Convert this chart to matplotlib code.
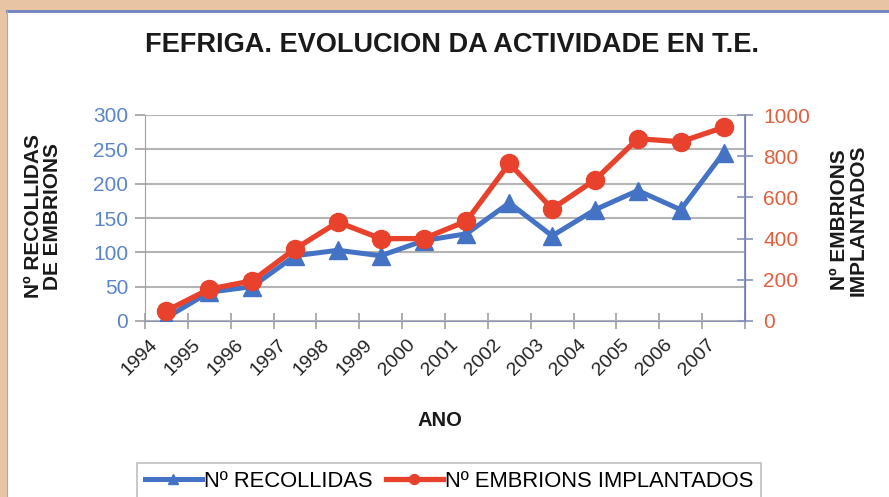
import numpy as np
import matplotlib
matplotlib.use("Agg")
import matplotlib.pyplot as plt
import matplotlib.transforms as mtransforms
from matplotlib.patches import Rectangle
from matplotlib.lines import Line2D

plt.rcParams['font.family'] = ['Liberation Sans', 'DejaVu Sans']

# data
years = ['1994', '1995', '1996', '1997', '1998', '1999', '2000',
         '2001', '2002', '2003', '2004', '2005', '2006', '2007']
recollidas = [5, 42, 50, 95, 103, 95, 117, 127, 172, 124, 162, 190, 162, 245]
implantados = [50, 155, 195, 350, 480, 400, 400, 485, 765, 545, 685, 885, 870, 940]

blue = '#4472c4'
red = '#e8412c'
W, H = 889, 497

fig = plt.figure(figsize=(W / 100, H / 100), dpi=100)
fig.patch.set_facecolor('#e8c4a4')

# white panel with blue top edge
fig.patches.append(Rectangle((7 / W, 0), (W - 7) / W, (497 - 11) / H,
                             transform=fig.transFigure, facecolor='white',
                             edgecolor='none', zorder=-10))
fig.lines.append(Line2D([7 / W, 1], [1 - 10.5 / H] * 2, transform=fig.transFigure,
                        color='#6b84c0', lw=2, zorder=-5))
fig.lines.append(Line2D([6.5 / W] * 2, [0, 1 - 10.5 / H], transform=fig.transFigure,
                        color='#b8a898', lw=0.8, zorder=-5))

ax = fig.add_axes([145 / W, 1 - 321 / H, 600 / W, 206 / H])
ax.set_facecolor('none')
ax2 = ax.twinx()

x = np.arange(len(years))
ax.plot(x, recollidas, color=blue, lw=3.6, marker='^', ms=13,
        solid_joinstyle='round', label='Nº RECOLLIDAS', zorder=3)
ax2.plot(x, implantados, color=red, lw=3.8, marker='o', ms=13,
         solid_joinstyle='round', label='Nº EMBRIONS IMPLANTADOS', zorder=3)

ax.set_xlim(-0.5, len(years) - 0.5)
ax.set_ylim(0, 300)
ax2.set_ylim(0, 1000)
ax.set_yticks(np.arange(0, 301, 50))
ax2.set_yticks(np.arange(0, 1001, 200))

ax.grid(axis='y', color='#b4b4b4', lw=1.5)
ax.set_axisbelow(True)

for a in (ax, ax2):
    a.spines['top'].set_visible(False)
ax.spines['left'].set_color('#a0a0a0')
ax.spines['bottom'].set_color('#8a94b8')
ax2.spines['left'].set_visible(False)
ax2.spines['bottom'].set_visible(False)
ax2.spines['right'].set_color('#7a8cc0')
ax2.spines['right'].set_linewidth(1.3)

ax.tick_params(axis='y', colors='#a0a0a0', labelcolor='#5a85c8', labelsize=15,
               length=7, width=1.2, pad=5)
ax2.tick_params(axis='y', colors='#8a94b8', labelcolor='#e0603e', labelsize=15,
                direction='inout', length=12, width=1.2, pad=7)

# category boundaries as ticks, labels at category centres
ax.set_xticks(np.arange(-0.5, len(years), 1))
ax.set_xticklabels([])
ax.tick_params(axis='x', which='major', direction='inout', length=12,
               color='#a0a0a0', width=1.2)
ax.set_xticks(x, minor=True)
ax.set_xticklabels(years, minor=True, rotation=45, ha='right', va='center',
                   rotation_mode='anchor', fontsize=14, color='#222222')
ax.tick_params(axis='x', which='minor', length=0, pad=15)
shift = mtransforms.ScaledTranslation(-0.11, 0, fig.dpi_scale_trans)
for lab in ax.get_xticklabels(minor=True):
    lab.set_transform(lab.get_transform() + shift)

fig.text(452 / W, 1 - 45 / H, 'FEFRIGA. EVOLUCION DA ACTIVIDADE EN T.E.',
         ha='center', va='center', fontsize=19.5, fontweight='bold', color='#1a1a1a')
fig.text(43 / W, 1 - 216 / H, 'Nº RECOLLIDAS\nDE EMBRIONS', rotation=90,
         ha='center', va='center', fontsize=15, fontweight='bold',
         linespacing=1.0, color='#1a1a1a')
fig.text(849 / W, 1 - 220 / H, 'Nº EMBRIONS\nIMPLANTADOS', rotation=90,
         ha='center', va='center', fontsize=15, fontweight='bold',
         linespacing=1.0, color='#1a1a1a')
fig.text(440 / W, 1 - 420 / H, 'ANO', ha='center', va='center',
         fontsize=14.5, fontweight='bold', color='#1a1a1a')

h1, l1 = ax.get_legend_handles_labels()
h2, l2 = ax2.get_legend_handles_labels()
leg = fig.legend(h1 + h2, l1 + l2, loc='upper left',
                 bbox_to_anchor=(137 / W, 1 - 463 / H), ncol=2, fontsize=15.8,
                 frameon=True, fancybox=False, edgecolor='#b0b0b0',
                 handlelength=2.6, handletextpad=0.1, columnspacing=0.6,
                 borderpad=0.35, borderaxespad=0, markerscale=0.55)
leg.get_frame().set_linewidth(1.2)

fig.savefig('out.png', dpi=100, facecolor=fig.get_facecolor())
